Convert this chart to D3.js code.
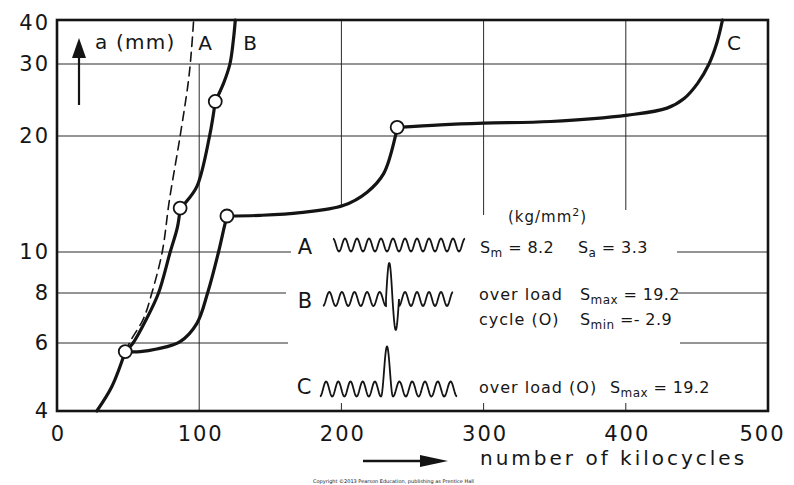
<!DOCTYPE html>
<html><head><meta charset="utf-8">
<script src="https://cdn.jsdelivr.net/npm/d3@7"></script>
<style>
body{margin:0;background:#fff;}
svg text{font-family:"DejaVu Sans",sans-serif;fill:#161616;}
</style></head><body>
<svg id="c" width="794" height="485"></svg>
<script>
// ---------- data ----------
const xTickValues = [0, 100, 200, 300, 400, 500];
const yTickValues = [4, 6, 8, 10, 20, 30, 40];

// curve A (dashed): constant amplitude loading
const curveA_x = [48, 52, 60.8, 66.7, 74, 79, 86.6, 92.5, 94.6, 96.1];
const curveA_y = [5.7, 6.1, 6.9, 8, 10, 13.6, 20, 27.4, 33, 40];

// curve B (solid): overload cycle (O) type B
const curveB_x = [28, 38.5, 48, 53.5, 63, 71.4, 79.6, 84.7, 86.6, 90.1, 98.4, 107.3, 111.3, 117.1, 121.6, 124, 125.4];
const curveB_y = [4, 4.62, 5.7, 6, 6.9, 8, 10, 11.6, 13.0, 13.4, 14.8, 20, 24.3, 26.9, 30, 35, 40];

// curve C (solid): overload (O) type C
const curveC_x = [48, 58.5, 70.2, 86.6, 98.4, 105.9, 113.6, 117.6, 119.5, 143, 171.1, 201.2, 218.1, 229.8, 238, 239.2, 269.7, 300, 347.2, 401.4, 429, 441, 450.5, 458.5, 464, 468];
const curveC_y = [5.7, 5.7, 5.79, 6.05, 6.72, 8, 10, 11.6, 12.4, 12.45, 12.65, 13.2, 14.3, 16.0, 20, 21.0, 21.3, 21.5, 21.7, 22.5, 23.4, 24.7, 26.9, 30, 34.4, 40];

// overload markers (open circles)
const marker_x = [48, 86.6, 111.3, 119.5, 239.2];
const marker_y = [5.7, 13.0, 24.3, 12.4, 21.0];

const curveLabels = ["A", "B", "C"];

// ---------- layout ----------
const svg = d3.select("#c");
const L = 57, R = 768, T = 20, B = 411;
const x = d3.scaleLinear().domain([0, 500]).range([L, R]);
const y = d3.scaleLog().domain(yTickValues).range([411, 343, 293, 252, 136, 64, 20]);
const ink = "#141414";

// ---------- grid ----------
const grid = svg.append("g").attr("stroke", "#2a2a2a").attr("stroke-width", 1);
[20, 30].forEach(v => grid.append("line").attr("x1", L).attr("x2", R).attr("y1", y(v)).attr("y2", y(v)));
const splitH = [[10, 291, 677], [8, 286, 678], [6, 288, 680]];
splitH.forEach(([v, a, b]) => {
  grid.append("line").attr("x1", L).attr("x2", a).attr("y1", y(v)).attr("y2", y(v));
  grid.append("line").attr("x1", b).attr("x2", R).attr("y1", y(v)).attr("y2", y(v));
});
grid.append("line").attr("x1", x(100)).attr("x2", x(100)).attr("y1", y(30)).attr("y2", B);
const vEnds = [[200, 205], [300, 215], [400, 210]];
vEnds.forEach(([v, e]) => {
  grid.append("line").attr("x1", x(v)).attr("x2", x(v)).attr("y1", T).attr("y2", e);
  grid.append("line").attr("x1", x(v)).attr("x2", x(v)).attr("y1", B - 8).attr("y2", B);
});

svg.append("rect").attr("x", L).attr("y", T).attr("width", R - L).attr("height", B - T)
  .attr("fill", "none").attr("stroke", ink).attr("stroke-width", 2.6);

// ---------- axes ----------
const ya = svg.append("g").attr("transform", `translate(${L},0)`)
  .call(d3.axisLeft(y).tickValues(yTickValues).tickFormat(d => d).tickSize(0).tickPadding(7));
ya.select(".domain").remove();
ya.selectAll("text").attr("font-size", 21).style("letter-spacing", "2px").attr("fill", ink)
  .attr("font-family", "DejaVu Sans").attr("dy", d => d === 40 ? "0.45em" : "0.32em");

const xa = svg.append("g").attr("transform", `translate(0,${B})`)
  .call(d3.axisBottom(x).tickValues(xTickValues).tickFormat(d => d).tickSize(0));
xa.select(".domain").remove();
xa.selectAll("text").attr("font-size", 21).style("letter-spacing", "2px").attr("fill", ink)
  .attr("font-family", "DejaVu Sans").attr("y", 23).attr("dy", "0.35em")
  .attr("x", d => d === 500 ? -6 : 1);

// ---------- curves ----------
const line = d3.line().x(d => x(d[0])).y(d => y(d[1])).curve(d3.curveCatmullRom.alpha(0.5));
const isMarker = p => marker_x.some((mx, i) => mx === p[0] && marker_y[i] === p[1]);
function pieces(xs, ys) {
  const pts = xs.map((v, i) => [v, ys[i]]);
  const out = []; let cur = [];
  pts.forEach((p, i) => {
    cur.push(p);
    if (isMarker(p) && i > 0 && i < pts.length - 1) { out.push(cur); cur = [p]; }
  });
  if (cur.length > 1) out.push(cur);
  return out;
}
const cg = svg.append("g").attr("fill", "none").attr("stroke", ink).attr("stroke-linecap", "round");
pieces(curveA_x, curveA_y).forEach(p => cg.append("path").attr("d", line(p))
  .attr("stroke-width", 1.6).attr("stroke-dasharray", "9,6"));
pieces(curveB_x, curveB_y).forEach(p => cg.append("path").attr("d", line(p)).attr("stroke-width", 3.2));
pieces(curveC_x, curveC_y).forEach(p => cg.append("path").attr("d", line(p)).attr("stroke-width", 3.2));

svg.append("g").selectAll("circle").data(marker_x).join("circle")
  .attr("cx", d => x(d)).attr("cy", (d, i) => y(marker_y[i])).attr("r", 6.5)
  .attr("fill", "#fff").attr("stroke", ink).attr("stroke-width", 1.8);

// ---------- labels on chart ----------
const t = (xx, yy, s, size, anchor, ls) => svg.append("text").attr("x", xx).attr("y", yy)
  .attr("font-size", size).attr("text-anchor", anchor || "start")
  .style("letter-spacing", (ls || 0) + "px").text(s);

t(95, 49, "a (mm)", 20, "start", 1.2);
t(205, 50, curveLabels[0], 20, "middle");
t(250, 50, curveLabels[1], 20, "middle");
t(734, 50, curveLabels[2], 20, "middle");

svg.append("line").attr("x1", 79).attr("x2", 79).attr("y1", 105).attr("y2", 55).attr("stroke", ink).attr("stroke-width", 2.2);
svg.append("path").attr("d", "M79,38 L72,58 L86,58 Z").attr("fill", ink);

svg.append("line").attr("x1", 363).attr("x2", 425).attr("y1", 461).attr("y2", 461).attr("stroke", ink).attr("stroke-width", 2.6);
svg.append("path").attr("d", "M448,461 L420,455 L420,467 Z").attr("fill", ink);
t(480, 465, "number of kilocycles", 20, "start", 3);

// ---------- legend ----------
const lg = svg.append("g");
const kg = lg.append("text").attr("x", 508).attr("y", 222).attr("font-size", 15).style("letter-spacing", "1px");
kg.append("tspan").text("(kg/mm");
kg.append("tspan").attr("dy", -6).attr("font-size", 11).text("2");
kg.append("tspan").attr("dy", 6).text(")");

t(305, 254, curveLabels[0], 21, "middle");
t(305, 308, curveLabels[1], 21, "middle");
t(304, 394, curveLabels[2], 21, "middle");

function sub(xx, yy, main, s, rest) {
  const el = lg.append("text").attr("x", xx).attr("y", yy).attr("font-size", 16).style("letter-spacing", "0.4px");
  el.append("tspan").text(main);
  el.append("tspan").attr("dy", 4).attr("font-size", 12).text(s);
  el.append("tspan").attr("dy", -4).text(rest);
}
sub(480, 253, "S", "m", " = 8.2");
sub(578, 253, "S", "a", " = 3.3");
t(479, 300, "over load", 16, "start", 1);
sub(580, 300, "S", "max", " = 19.2");
t(479, 325, "cycle (O)", 16, "start", 1);
sub(580, 325, "S", "min", " =- 2.9");
t(479, 393, "over load (O)", 16, "start", 1);
sub(610, 393, "S", "max", " = 19.2");

// waveform glyphs (legend symbols)
const wl = d3.line().curve(d3.curveLinear);
function sinePts(x0, x1, cy, amp, period, phase) {
  return d3.range(x0, x1 + 0.01, 0.5).map(v => [v, cy - amp * Math.cos(2 * Math.PI * (v - x0) / period + phase)]);
}
const wg = lg.append("g").attr("fill", "none").attr("stroke", ink).attr("stroke-width", 1.8);
wg.append("path").attr("d", wl(sinePts(333, 465, 245, 6.5, 12, 0)));
{
  const left = sinePts(323, 386, 299, 7, 12.6, Math.PI);
  const spike = d3.range(0, 1.001, 0.02).map(u => [386 + 13 * u, 299 - (u < 0.5 ? 36 : 31) * Math.sin(2 * Math.PI * u)]);
  const right = sinePts(399, 453, 299, 7, 12, 0).map(p => [p[0], 2 * 299 - p[1]]);
  wg.append("path").attr("d", wl(left.concat(spike, right)));
}
{
  const left = sinePts(320, 381, 389, 7.5, 12.2, Math.PI);
  const spike = d3.range(0, 1.001, 0.02).map(u => [381 + 12 * u, 389 + 7.5 - 50 * (1 - Math.cos(2 * Math.PI * u)) / 2]);
  const right = sinePts(393, 457, 389, 7.5, 12.8, Math.PI);
  wg.append("path").attr("d", wl(left.concat(spike, right)));
}

svg.append("text").attr("x", 313).attr("y", 483).attr("font-size", 5).attr("fill", "#666")
  .text("Copyright ©2013 Pearson Education, publishing as Prentice Hall");
</script>
</body></html>
